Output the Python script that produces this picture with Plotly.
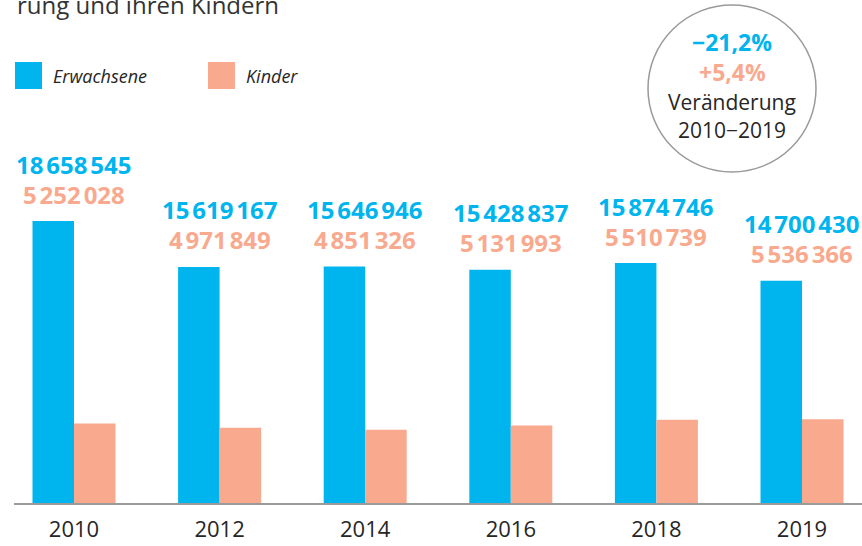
import plotly.graph_objects as go

# data
years = ["2010", "2012", "2014", "2016", "2018", "2019"]
erwachsene = [18658545, 15619167, 15646946, 15428837, 15874746, 14700430]
kinder = [5252028, 4971849, 4851326, 5131993, 5510739, 5536366]
change_erw = "−21,2%"
change_kind = "+5,4%"

BLUE = "#00b5ee"
SALMON = "#f8a98e"
DARK = "#262626"
FONT = "Open Sans, sans-serif"

W, H = 862, 546
L, R, T, B = 14, 0, 130, 43


def px(p):
    return (p - L) / (W - L - R)


def py(p):
    return (H - B - p) / (H - T - B)


def fmt(v):
    # narrow digit grouping like the print original
    return f"{v:,}".replace(",", "<span style='font-size:11px'> </span>")


fig = go.Figure()
fig.add_bar(x=years, y=erwachsene, name="Erwachsene", marker_color=BLUE,
            marker_line_width=0)
fig.add_bar(x=years, y=kinder, name="Kinder", marker_color=SALMON,
            marker_line_width=0)

# value labels above each pair, anchored to the adult bar
# (category axis: annotation x is the category index, not the label)
for i, (a, k) in enumerate(zip(erwachsene, kinder)):
    fig.add_annotation(x=i, y=a, text=f"<b>{fmt(a)}</b>", showarrow=False,
                       yanchor="middle", yshift=57,
                       font=dict(family=FONT, size=24, color=BLUE))
    fig.add_annotation(x=i, y=a, text=f"<b>{fmt(k)}</b>", showarrow=False,
                       yanchor="middle", yshift=27,
                       font=dict(family=FONT, size=24, color=SALMON))

# cut-off title line at the very top
fig.add_annotation(xref="paper", yref="paper", x=px(15), y=py(4), xanchor="left",
                   yanchor="middle", text="rung und ihren Kindern", showarrow=False,
                   font=dict(family=FONT, size=24, color="#333333"))

# legend drawn by hand to get the big square swatches
for x0, col, label in [(15, BLUE, "Erwachsene"), (208, SALMON, "Kinder")]:
    fig.add_shape(type="rect", xref="paper", yref="paper",
                  x0=px(x0), x1=px(x0 + 27), y0=py(89), y1=py(62),
                  fillcolor=col, line_width=0)
    fig.add_annotation(xref="paper", yref="paper", x=px(x0 + 36), y=py(76),
                       xanchor="left", yanchor="middle", text=f"<i>{label}</i>",
                       showarrow=False, font=dict(family=FONT, size=18, color=DARK))

# change circle
fig.add_shape(type="circle", xref="paper", yref="paper",
              x0=px(648), x1=px(816), y0=py(172), y1=py(5),
              line=dict(color="#9a9a9a", width=1.5), fillcolor="rgba(0,0,0,0)")
for yy, txt, col, size in [(42, f"<b>{change_erw}</b>", BLUE, 23),
                           (72, f"<b>{change_kind}</b>", SALMON, 23),
                           (102, "Veränderung", DARK, 21),
                           (130, "2010−2019", DARK, 21)]:
    fig.add_annotation(xref="paper", yref="paper", x=px(732), y=py(yy),
                       xanchor="center", yanchor="middle", text=txt, showarrow=False,
                       font=dict(family=FONT, size=size, color=col))

fig.update_layout(
    width=W, height=H, barmode="group", bargap=0.43, bargroupgap=0,
    showlegend=False, paper_bgcolor="white", plot_bgcolor="white",
    margin=dict(l=L, r=R, t=T, b=B), font=dict(family=FONT, color=DARK),
    xaxis=dict(type="category", range=[-0.412, 5.412], showgrid=False,
               showline=True, linecolor="#9a9a9a", linewidth=2, ticks="",
               ticklabelstandoff=6,
               tickfont=dict(family=FONT, size=22, color=DARK)),
    yaxis=dict(range=[0, 24680000], visible=False, showgrid=False, zeroline=False),
)

fig.write_html("out.html", config={"displayModeBar": False},
               post_script="document.body.style.margin='0';")
